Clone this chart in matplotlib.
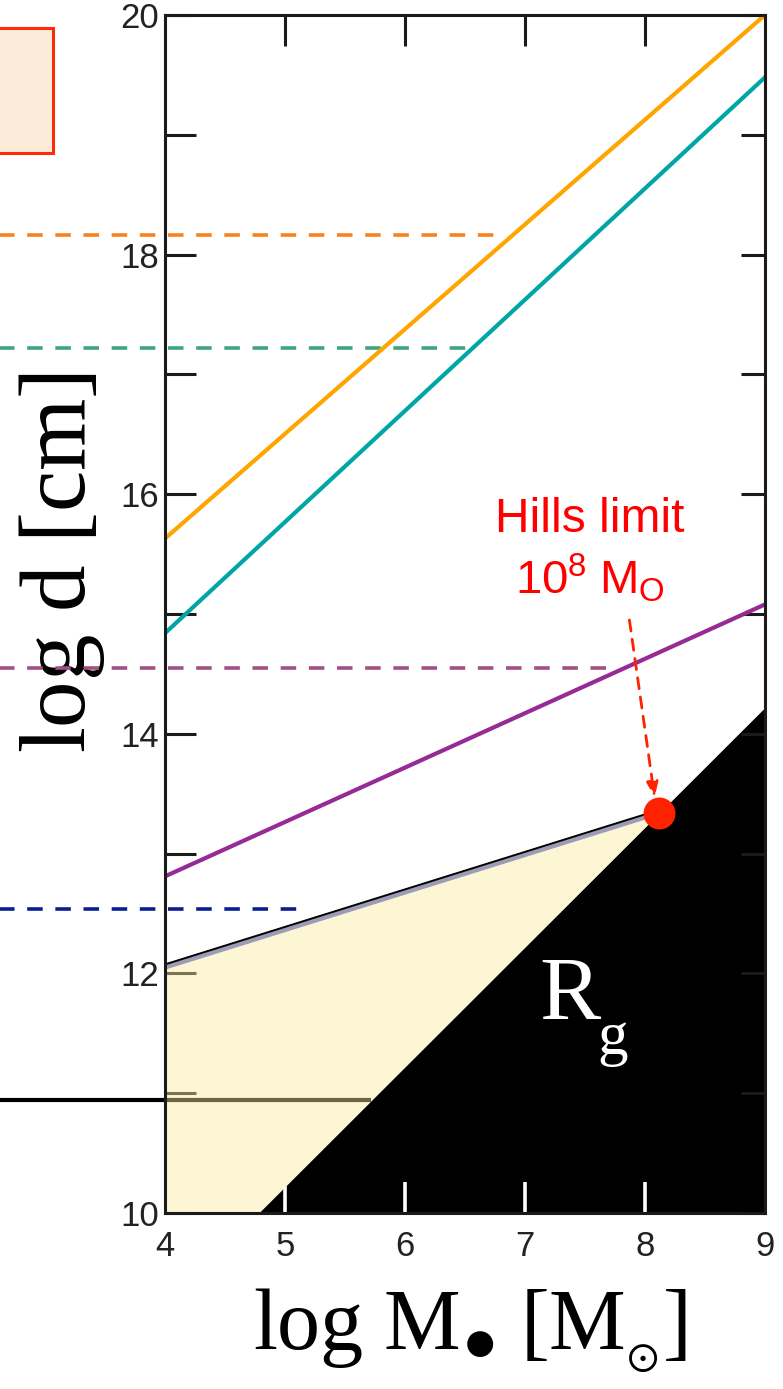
import matplotlib
matplotlib.use("Agg")
import matplotlib.pyplot as plt
from matplotlib.patches import Rectangle

plt.rcParams["font.family"] = ["Liberation Sans", "DejaVu Sans"]
plt.rcParams["mathtext.fontset"] = "custom"
plt.rcParams["mathtext.rm"] = "Liberation Serif"
plt.rcParams["mathtext.it"] = "Liberation Serif:italic"
plt.rcParams["mathtext.sf"] = "Liberation Sans"
plt.rcParams["mathtext.fallback"] = "stix"

# ---- data (log M in solar masses, log d in cm) ----
x_range = [4, 9]
orange_line = [15.63, 20.00]      # values at log M = 4 and 9
teal_line = [14.84, 19.48]
purple_line = [12.81, 15.08]

tidal_x = [4.00, 8.12]            # tidal radius up to the Hills mass
tidal_y = [12.05, 13.34]
rg_x = [4.78, 9.00]               # gravitational radius R_g
rg_y = [10.00, 14.22]

hills_mass = 8.12
hills_d = 13.34

# horizontal reference levels: log d, end in log M, colour
level_values = [18.16, 17.22, 14.55, 12.54]
level_ends = [6.84, 6.53, 7.70, 5.19]
level_colors = ["#F7821E", "#3FA57C", "#A24F86", "#0A1E92"]
solid_level = 10.94
solid_level_end = 5.72

y_major = [10, 12, 14, 16, 18, 20]
y_minor = [11, 13, 15, 17, 19]
x_major = [4, 5, 6, 7, 8, 9]

W, H = 783, 1389
fig = plt.figure(figsize=(W / 100, H / 100), dpi=100)
ax = fig.add_axes([165 / W, 1 - 1213 / H, 600 / W, 1198 / H])
ax.set_xlim(4, 9)
ax.set_ylim(10, 20)
ax.set_axisbelow(True)

# x of the figure's left edge in data units
x_fig_left = ax.transData.inverted().transform(fig.transFigure.transform((0, 0)))[0] - 0.1

# black region below R_g
ax.fill_between(rg_x + [9.0], rg_y + [rg_y[-1]], [10, 10, 10],
                color="black", lw=0, zorder=0.2)

# solid black level (under the translucent yellow)
ax.plot([x_fig_left, solid_level_end], [solid_level, solid_level],
        color="black", lw=3, clip_on=False, zorder=0.8, solid_capstyle="butt")

# yellow region between R_g and the tidal radius
slope_t = (tidal_y[1] - tidal_y[0]) / (tidal_x[1] - tidal_x[0])
slope_g = (rg_y[1] - rg_y[0]) / (rg_x[1] - rg_x[0])
xs = [tidal_x[0], rg_x[0], tidal_x[1]]
upper = [tidal_y[0] + slope_t * (x - tidal_x[0]) for x in xs]
lower = [max(10, rg_y[0] + slope_g * (x - rg_x[0])) for x in xs]
ax.fill_between(xs, lower, upper, color="#FAEC9F", alpha=0.43, lw=0, zorder=1)

# tidal radius edge
ax.plot(tidal_x, tidal_y, color="#9C9CB6", lw=3.2, zorder=2, solid_capstyle="butt")
ax.plot(tidal_x, [v + 0.025 for v in tidal_y], color="black", lw=1.4, zorder=2.1,
        solid_capstyle="butt")

# dashed levels extending past the left spine
for yv, xe, c in zip(level_values, level_ends, level_colors):
    ax.plot([x_fig_left, xe], [yv, yv], color=c, lw=2.6, dashes=(4.3, 3.5),
            clip_on=False, zorder=2)

# distance lines
ax.plot(x_range, orange_line, color="#FFA500", lw=3, zorder=3)
ax.plot(x_range, teal_line, color="#00A6A6", lw=3, zorder=3)
ax.plot(x_range, purple_line, color="#962A96", lw=3, zorder=3)

# Hills limit marker and annotation
ax.plot([hills_mass], [hills_d], "o", color="#FF2200", ms=23, mec="none", zorder=5)
ax.annotate("", xy=(hills_mass - 0.04, hills_d + 0.13), xytext=(7.87, 14.95),
            arrowprops=dict(arrowstyle="-|>,head_length=0.9,head_width=0.35",
                            color="#FF2200", lw=2, linestyle=(0, (4, 3)),
                            shrinkA=0, shrinkB=0), zorder=5)
ax.text(7.54, 15.79, "Hills limit", color="#FF0000", fontsize=34.5,
        ha="center", va="center", zorder=6)
ax.text(7.54, 15.30, r"$\mathsf{10^8\ M_O}$", color="#FF0000", fontsize=34,
        ha="center", va="center", zorder=6)

# R_g label in the black region
ax.text(7.12, 11.61, "R", color="white", fontsize=66, family="Liberation Serif",
        ha="left", va="baseline", zorder=6)
ax.text(7.60, 11.33, "g", color="white", fontsize=44, family="Liberation Serif",
        ha="left", va="baseline", zorder=6)

# spines and ticks
for s in ax.spines.values():
    s.set_linewidth(2.2)
    s.set_color("#1A1A1A")
    s.set_zorder(4)

ax.set_xticks(x_major)
ax.set_yticks(y_major)
ax.set_yticks(y_minor, minor=True)
ax.tick_params(axis="both", which="both", direction="in", labelsize=25,
               labelcolor="#222222", width=2.2, color="#1A1A1A")
ax.tick_params(axis="x", which="major", top=True, bottom=True, length=22, pad=12)
ax.tick_params(axis="y", which="both", left=True, right=True, length=22, pad=4)

for t, v in zip(ax.xaxis.get_major_ticks(), x_major):
    t.tick1line.set_markeredgecolor("white")
    t.tick1line.set_markeredgewidth(2.6)
    if v in (4, 9):
        t.tick1line.set_visible(False)
        t.tick2line.set_visible(False)
for t in ax.yaxis.get_major_ticks() + ax.yaxis.get_minor_ticks():
    t.tick2line.set_markersize(17)

ax.set_xlabel(r"$\mathrm{log\ M}_{●}\ \mathrm{[M}_{{}_{\odot}}\mathrm{]}$", fontsize=62)
ax.xaxis.set_label_coords(0.508, -0.098)
ax.xaxis.label.set_va("center")
ax.set_ylabel(r"$\mathrm{log\ d\ [cm]}$", fontsize=67)
ax.yaxis.set_label_coords(-0.172, 0.543)
ax.yaxis.label.set_va("center")

# boxed legend panel at the top-left edge
fig.patches.append(Rectangle((-20 / W, 1 - 153 / H), 73 / W, 125 / H,
                             transform=fig.transFigure, facecolor="#FDEBDA",
                             edgecolor="#FF2A0A", lw=2.2))

fig.savefig("out.png", dpi=100)
